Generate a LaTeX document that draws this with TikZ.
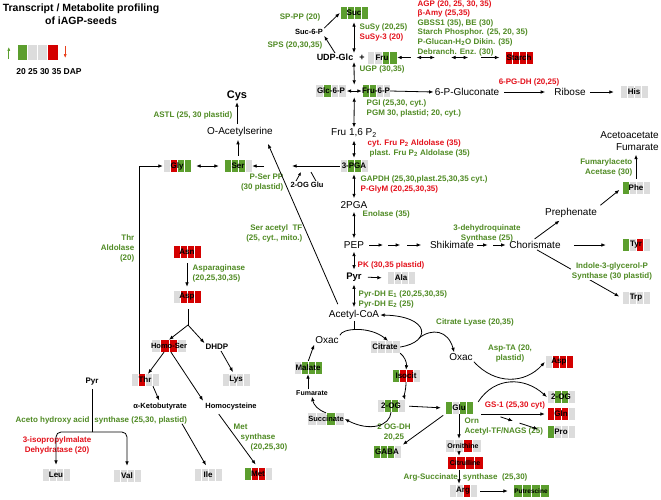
\documentclass[tikz,border=0pt]{standalone}
\usepackage{fontspec}
\setmainfont{Liberation Sans}
\usetikzlibrary{arrows.meta,calc}
\definecolor{hmUp}{HTML}{5C9E2E}
\definecolor{hmDown}{HTML}{D40000}
\definecolor{hmNone}{HTML}{DCDCDC}
\definecolor{enzUp}{HTML}{4F8A23}
\definecolor{enzDown}{HTML}{E3111B}
\definecolor{legDown}{HTML}{E8401C}

\begin{document}
\begin{tikzpicture}[x=1pt,y=-1pt,
    cells/.style n args={4}{path picture={
        \path (path picture bounding box.south west) coordinate (hmsw)
              (path picture bounding box.south east) coordinate (hmse)
              (path picture bounding box.north west) coordinate (hmnw)
              (path picture bounding box.north east) coordinate (hmne);
        \foreach \c [count=\i from 0] in {#1,#2,#3,#4}
          \fill[\c] ($(hmsw)!{\i/4}!(hmse)+(0.5,0)$) rectangle ($(hmnw)!{(\i+1)/4}!(hmne)-(0.5,0)$);}},
    hm/.style={fill=white,inner sep=0pt,minimum width=28pt,minimum height=12pt,
               font=\bfseries\fontsize{8}{9}\selectfont},
    cpd/.style={font=\fontsize{10}{12}\selectfont,inner sep=1pt},
    bcpd/.style={font=\bfseries\fontsize{8}{10}\selectfont,inner sep=1pt},
    enz/.style={font=\bfseries\fontsize{8}{10}\selectfont,text=enzUp,inner sep=0.5pt,align=left},
    enzr/.style={enz,text=enzDown},
    arr/.style={line width=0.8pt,-{Latex[length=4.5pt,width=3.6pt]}},
    sarr/.style={line width=0.8pt,-{Latex[length=3.5pt,width=3pt]}},
    rarr/.style={line width=0.8pt,{Latex[length=4.5pt,width=3.6pt]}-},
    dbl/.style={line width=0.8pt,{Latex[length=4.5pt,width=3.6pt]}-{Latex[length=4.5pt,width=3.6pt]}},
    ln/.style={line width=0.8pt},
    legup/.style={line width=1pt,hmUp,-{Latex[length=4pt,width=3pt]}},
    legdn/.style={line width=1pt,legDown,-{Latex[length=4pt,width=3pt]}}]
  \useasboundingbox (0,0) rectangle (661,499);

  % header and legend
  \node[font=\bfseries\fontsize{10.5}{13}\selectfont,align=center] (title) at (81,14.5) {Transcript / Metabolite profiling\\of iAGP-seeds};
  \node[hm,minimum width=41pt,minimum height=15pt,cells={hmUp}{hmNone}{hmNone}{hmDown}] (legend) at (37.5,52.5) {};
  \draw[legup] ([xshift=-8pt,yshift=1pt]legend.south west) -- ([xshift=-8pt,yshift=-2pt]legend.north west);
  \draw[legdn] ([xshift=7pt,yshift=-1pt]legend.north east) -- ([xshift=7pt,yshift=2pt]legend.south east);
  \node[font=\bfseries\fontsize{8.5}{10}\selectfont] (dap) at (49,72) {20 25 30 35 DAP};

  % sucrose, starch, hexose phosphates
  \node[hm,cells={hmUp}{hmUp}{hmUp}{hmUp}] (suc) at (354,13) {Suc};
  \node[bcpd,font=\bfseries\fontsize{7.5}{9}\selectfont] (suc6p) at (309,32) {Suc-6-P};
  \node[bcpd,font=\bfseries\fontsize{9}{10}\selectfont] (udpglc) at (335,57.5) {UDP-Glc};
  \node[bcpd,font=\bfseries\fontsize{9}{10}\selectfont] (plus) at (362,57.5) {+};
  \node[hm,minimum width=30pt,cells={hmNone}{hmNone}{hmUp}{hmUp}] (fru) at (382,57.5) {Fru};
  \node[hm,cells={hmDown}{hmDown}{hmDown}{hmDown}] (starch) at (519,57.5) {Starch};
  \node[hm,minimum width=31pt,cells={hmNone}{hmUp}{hmNone}{hmNone}] (glc6p) at (331,91) {Glc-6-P};
  \node[hm,cells={hmUp}{hmUp}{hmNone}{hmNone}] (fru6p) at (376,91) {Fru-6-P};
  \node[cpd] (pgluc) at (467,92) {6-P-Gluconate};
  \node[cpd] (ribose) at (570,92) {Ribose};
  \node[hm,cells={hmNone}{hmNone}{hmNone}{hmNone}] (his) at (634,92) {His};

  \node[enz,anchor=east] (lsppp) at (321,17) {SP-PP (20)};
  \node[enz,anchor=east] (lsps) at (323,45) {SPS (20,30,35)};
  \node[enz,anchor=west] (lsusy) at (359,32.5) {SuSy (20,25)\\\textcolor{enzDown}{SuSy-3 (20)}};
  \node[enz,anchor=west] (lugp) at (359,69) {UGP (30,35)};
  \node[enz,anchor=west,font=\bfseries\fontsize{8}{9.6}\selectfont] (lstarch) at (417,28) {\textcolor{enzDown}{AGP (20, 25, 30, 35)}\\\textcolor{enzDown}{β-Amy (25,35)}\\GBSS1 (35), BE (30)\\Starch Phosphor. (25, 20, 35)\\P-Glucan-H\textsubscript{2}O Dikin. (35)\\Debranch. Enz. (30)};
  \node[enzr] (lpgdh) at (529,82) {6-PG-DH (20,25)};

  \draw[dbl,shorten <=3pt] (suc.south) -- (suc.south |- udpglc.north);
  \draw[arr] (udpglc.north) -- (suc6p.south east);
  \draw[arr] (suc6p.north east) -- (suc.west);
  \draw[dbl] (udpglc.south -| suc) -- ($(glc6p.north east)!.5!(fru6p.north west)$);
  \draw[dbl] (glc6p.east) -- (fru6p.west);
  \foreach \a/\b/\s in {0/.13/rarr, .18/.35/dbl, .5/.66/dbl, .78/.95/arr}
    \draw[\s] ($(fru.east)!\a!(starch.west)$) -- ($(fru.east)!\b!(starch.west)$);
  \draw[arr] (fru6p.east) -- (pgluc.west);
  \draw[arr,shorten <=4pt,shorten >=8pt] (pgluc.east) -- (ribose.west);
  \draw[arr,shorten <=3pt,shorten >=6pt] (ribose.east) -- (his.west);

  % glycolysis
  \node[cpd] (fru16) at (354,133) {Fru 1,6 P\textsubscript{2}};
  \node[hm,cells={hmNone}{hmUp}{hmUp}{hmNone}] (pga3) at (354,166) {3-PGA};
  \node[cpd] (pga2) at (354,205) {2PGA};
  \node[cpd] (pep) at (354,245) {PEP};
  \node[bcpd,font=\bfseries\fontsize{9.5}{11}\selectfont] (pyr) at (354,277) {Pyr};
  \node[hm,cells={hmNone}{hmNone}{hmNone}{hmNone}] (ala) at (401,278) {Ala};
  \node[cpd] (acoa) at (354,315) {Acetyl-CoA};

  \node[enz,anchor=west] (lpgi) at (366,108) {PGI (25,30, cyt.)\\PGM 30, plastid; 20, cyt.)};
  \node[enz,anchor=west] (lald) at (367,148) {\textcolor{enzDown}{cyt. Fru P\textsubscript{2} Aldolase (35)}\\\hspace*{2pt}plast. Fru P\textsubscript{2} Aldolase (35)};
  \node[enz,anchor=west] (lgapdh) at (360,184.5) {GAPDH (25,30,plast.25,30,35 cyt.)\\\textcolor{enzDown}{P-GlyM (20,25,30,35)}};
  \node[enz,anchor=west] (leno) at (362,214) {Enolase (35)};
  \node[enzr,anchor=west] (lpk) at (357,265) {PK (30,35 plastid)};
  \node[enz,anchor=west] (lpdh) at (358,299) {Pyr-DH E\textsubscript{1} (20,25,30,35)\\Pyr-DH E\textsubscript{2} (25)};

  \draw[dbl] ($(glc6p.south east)!.5!(fru6p.south west)$) -- (fru16.north);
  \foreach \a/\b in {fru16/pga3, pga3/pga2, pga2/pep, pep/pyr, pyr/acoa}
    \draw[dbl,shorten <=2pt,shorten >=2pt] (\a) -- (\b);
  \draw[arr,shorten <=5pt,shorten >=5pt] (pyr.east) -- (ala.west);

  % aromatic amino acids
  \node[cpd] (shik) at (452,245) {Shikimate};
  \node[cpd] (chor) at (535,245) {Chorismate};
  \node[cpd] (preph) at (571,213) {Prephenate};
  \node[hm,cells={hmUp}{hmNone}{hmDown}{hmNone}] (tyr) at (636,245) {Tyr};
  \node[hm,cells={hmUp}{hmNone}{hmNone}{hmNone}] (phe) at (636,188) {Phe};
  \node[hm,cells={hmNone}{hmNone}{hmNone}{hmNone}] (trp) at (636,298) {Trp};
  \node[cpd,anchor=east,align=right] (acfu) at (660,141) {Acetoacetate\\Fumarate};
  \node[enz,align=center] (ldhq) at (487,233) {3-dehydroquinate\\Synthase (25)};
  \node[enz,anchor=east,align=right] (lfaa) at (633,167.5) {Fumarylaceto\\Acetase (30)};

  \foreach \a/\b in {.06/.28, .36/.55, .66/.88}
    \draw[arr] ($(pep.east)!\a!(shik.west)$) -- ($(pep.east)!\b!(shik.west)$);
  \foreach \a/\b in {.05/.38, .54/.92}
    \draw[arr] ($(shik.east)!\a!(chor.west)$) -- ($(shik.east)!\b!(chor.west)$);
  \draw[arr,shorten <=12pt,shorten >=16pt] (chor.east) -- (tyr.west);
  \draw[arr,shorten <=2pt,shorten >=3pt] ([xshift=-2pt]chor.north) -- ([xshift=-9pt]preph.south);
  \draw[arr,shorten <=3pt,shorten >=3pt] (preph.north east) -- (phe.west);
  \draw[arr,shorten <=3pt,shorten >=3pt] (phe.north) -- (phe.north |- acfu.south);
  \draw[arr,shorten >=3pt] ([xshift=2pt]chor.south) -- (trp.west);
  \node[enz,align=center,fill=white] (ligp) at (612,271) {Indole-3-glycerol-P\\Synthase (30 plastid)};

  % serine, glycine, cysteine
  \node[bcpd,font=\bfseries\fontsize{11}{12}\selectfont] (cys) at (237,96) {Cys};
  \node[cpd] (oacs) at (240,132) {O-Acetylserine};
  \node[hm,cells={hmUp}{hmUp}{hmUp}{hmNone}] (ser) at (238,166) {Ser};
  \node[hm,cells={hmNone}{hmDown}{hmUp}{hmUp}] (gly) at (177,166) {Gly};
  \node[bcpd,font=\bfseries\fontsize{7.5}{9}\selectfont] (ogglu) at (307,185) {2-OG Glu};
  \coordinate (serA) at (292,166);
  \coordinate (serB) at (264,166);
  \node[enz,anchor=east] (lastl) at (233,115) {ASTL (25, 30 plastid)};
  \node[enz,anchor=east,align=right] (lpser) at (284,183) {P-Ser PP\\(30 plastid)};
  \node[enz,anchor=east,align=right] (lsat) at (303,233) {Ser acetyl\ \ TF\\(25, cyt., mito.)};

  \draw[arr,shorten <=2pt] (oacs.north -| cys) -- (cys.south);
  \draw[arr,shorten <=4pt,shorten >=2pt] (ser.north) -- (ser.north |- oacs.south);
  \draw[dbl,shorten <=5pt,shorten >=5pt] (gly.east) -- (ser.west);
  \draw[arr] (pga3.west) -- (serA);
  \draw[arr] (serB) -- (ser.east);
  \draw[sarr] ([xshift=-11pt]ogglu.north) -- ([xshift=-6pt,yshift=9pt]ogglu.north);
  \draw[ln] ([xshift=4pt,yshift=9pt]ogglu.north) -- ([xshift=9pt]ogglu.north);
  \draw[arr] ([xshift=10pt,yshift=5pt]acoa.north west) -- ([xshift=-6pt,yshift=-6pt]oacs.south east);

  % aspartate family
  \node[hm,cells={hmDown}{hmDown}{hmDown}{hmDown}] (asn) at (187,252) {Asn};
  \node[hm,cells={hmNone}{hmDown}{hmDown}{hmDown}] (aspl) at (187,297) {Asp};
  \node[hm,font=\bfseries\fontsize{7.5}{9}\selectfont,cells={hmNone}{hmDown}{hmDown}{hmNone}] (homoser) at (169,346) {Homo-Ser};
  \node[bcpd] (dhdp) at (217,347) {DHDP};
  \node[hm,cells={hmNone}{hmDown}{hmNone}{hmNone}] (thr) at (145,380) {Thr};
  \node[hm,cells={hmNone}{hmNone}{hmNone}{hmNone}] (lys) at (236,380) {Lys};
  \node[bcpd,font=\bfseries\fontsize{7.5}{9}\selectfont] (aketo) at (160,407) {α-Ketobutyrate};
  \node[bcpd,font=\bfseries\fontsize{7.5}{9}\selectfont] (homocys) at (231,407) {Homocysteine};
  \node[bcpd] (pyrl) at (92,382) {Pyr};
  \node[hm,cells={hmNone}{hmNone}{hmNone}{hmNone}] (leu) at (56,475) {Leu};
  \node[hm,cells={hmNone}{hmNone}{hmNone}{hmNone}] (val) at (127,476) {Val};
  \node[hm,cells={hmNone}{hmNone}{hmNone}{hmNone}] (ile) at (208,475) {Ile};
  \node[hm,cells={hmUp}{hmDown}{hmDown}{hmNone}] (met) at (258,474) {Met};
  \coordinate (aspbr) at (188,325);
  \coordinate (pyrbr) at (92,432);
  \node[enz,anchor=east,align=right] (lthra) at (135,248) {Thr\\Aldolase\\(20)};
  \node[enz,anchor=west] (lasnase) at (192,273) {Asparaginase\\(20,25,30,35)};
  \node[enz,anchor=west] (lahas) at (15,420) {Aceto hydroxy acid\hspace{5pt}synthase (25,30, plastid)};
  \node[enzr,align=center] (lipm) at (57,445.5) {3-isopropylmalate\\Dehydratase (20)};
  \node[enz,anchor=west] (lmets) at (233,438) {Met\\\hspace*{7pt}synthase\\\hspace*{17pt}(20,25,30)};

  \draw[arr] ([xshift=-6pt]thr.north) |- (gly.west);
  \draw[arr,shorten <=5pt,shorten >=4pt] (asn.south) -- (aspl.north);
  \draw[ln,shorten <=6pt] (aspl.south -| aspbr) -- (aspbr);
  \draw[arr] (aspbr) -- (homoser.north);
  \draw[arr] (aspbr) -- (dhdp.north west);
  \draw[arr,shorten >=2pt] ([xshift=4pt]dhdp.south) -- ([xshift=-2pt]lys.north);
  \draw[arr] ([xshift=-5pt]homoser.south) -- ([xshift=3pt]thr.north);
  \draw[arr,shorten >=2pt] ([xshift=2pt]homoser.south) -- (homocys.north west);
  \draw[arr,shorten >=2pt] ([xshift=8pt]thr.south) -- (aketo.north);
  \draw[arr,shorten >=4pt] ([xshift=22pt,yshift=-12pt]aketo.south) -- (ile.north);
  \draw[arr,shorten <=3pt,shorten >=4pt] ([xshift=-14pt]homocys.south) -- (met.north);
  \draw[ln,shorten <=2pt] (pyrl.south) -- (pyrbr);
  \draw[arr,rounded corners=5pt,shorten >=4pt] (pyrbr) -| (leu.north);
  \draw[arr,rounded corners=5pt,shorten >=4pt] (pyrbr) -| (val.north);

  % TCA cycle
  \node[cpd] (oxacl) at (327,340) {Oxac};
  \node[cpd] (oxacr) at (461,357) {Oxac};
  \node[hm,minimum width=30pt,cells={hmNone}{hmNone}{hmNone}{hmNone}] (citrate) at (385,347) {Citrate};
  \node[hm,cells={hmUp}{hmDown}{hmDown}{hmNone}] (isocit) at (406,376) {Isocit};
  \node[hm,cells={hmNone}{hmUp}{hmUp}{hmUp}] (malate) at (308,368) {Malate};
  \node[bcpd,font=\bfseries\fontsize{7}{8}\selectfont] (fum) at (312,393) {Fumarate};
  \node[hm,minimum width=37pt,font=\bfseries\fontsize{7.5}{9}\selectfont,cells={hmNone}{hmNone}{hmUp}{hmNone}] (succ) at (326,419) {Succinate};
  \node[hm,cells={hmNone}{hmUp}{hmUp}{hmNone}] (ogl) at (391,406) {2-OG};
  \coordinate (cs) at (354,330);
  \coordinate (lyase) at (419,338);
  \node[enz] (llyase) at (475,322) {Citrate Lyase (20,35)};
  \node[enz,align=center] (logdh) at (394,432) {2 OG-DH\\20,25};

  \draw[ln] (acoa.south) -- (cs);
  \draw[arr] (oxacl.north east) .. controls (342,328) and (370,326) .. ([xshift=3pt]citrate.north);
  \draw[arr] (citrate.south east) .. controls (404,356) and (407,362) .. (isocit.north);
  \draw[arr] (isocit.south) .. controls (406,390) and (404,396) .. (ogl.north east);
  \draw[arr] (ogl.south) .. controls (390,426) and (370,432) .. (succ.east);
  \draw[arr] (succ.north) to[bend left=30] (fum.south);
  \draw[arr] (fum.north -| malate) -- (malate.south);
  \draw[arr,shorten <=1pt] (malate.north) -- (oxacl.south west);
  \draw[arr] (citrate.east) .. controls (432,342) and (430,316) .. (acoa.east);
  \draw[arr] (lyase) .. controls (432,328) and (448,330) .. ([xshift=6pt]oxacr.north west);

  % glutamate family
  \node[hm,cells={hmUp}{hmNone}{hmUp}{hmUp}] (glu) at (459,408) {Glu};
  \node[hm,cells={hmUp}{hmUp}{hmUp}{hmNone}] (gaba) at (387,452) {GABA};
  \node[hm,minimum width=36pt,font=\bfseries\fontsize{7}{8}\selectfont,cells={hmNone}{hmNone}{hmDown}{hmNone}] (orn) at (463,446) {Ornithine};
  \node[hm,minimum width=36pt,font=\bfseries\fontsize{7}{8}\selectfont,cells={hmDown}{hmDown}{hmDown}{hmDown}] (cit) at (465,463) {Citrulline};
  \node[hm,cells={hmNone}{hmNone}{hmDown}{hmNone}] (arg) at (463,491) {Arg};
  \node[hm,minimum width=36pt,font=\bfseries\fontsize{6.5}{8}\selectfont,cells={hmUp}{hmUp}{hmUp}{hmUp}] (putr) at (531,491) {Putrescine};
  \node[hm,cells={hmNone}{hmDown}{hmDown}{hmDown}] (aspr) at (559,362) {Asp};
  \node[hm,cells={hmNone}{hmUp}{hmUp}{hmNone}] (ogr) at (561,397) {2-OG};
  \node[hm,cells={hmDown}{hmDown}{hmDown}{hmNone}] (gln) at (561,414) {Gln};
  \node[hm,cells={hmUp}{hmNone}{hmNone}{hmNone}] (pro) at (561,432) {Pro};
  \node[enz,align=center] (lasta) at (510,353) {Asp-TA (20,\\plastid)};
  \node[enzr] (lgs) at (515,405) {GS-1 (25,30 cyt)};
  \node[enz,anchor=west] (lorn) at (464,427) {Orn\\Acetyl-TF/NAGS (25)};
  \node[enz,anchor=west] (lass) at (403,477) {Arg-Succinate\hspace{5pt}synthase\ \ (25,30)};

  \draw[arr,shorten <=4pt,shorten >=4pt] (ogl.east) -- (glu.west);
  \draw[arr,shorten <=2pt,shorten >=2pt] (glu.south west) -- (gaba.north east);
  \draw[arr,shorten >=1pt] (glu.south) -- (glu.south |- orn.north);
  \draw[arr,shorten <=1pt,shorten >=1pt] (orn.south -| glu) -- (cit.north -| glu);
  \draw[arr,shorten <=1pt,shorten >=1pt] (cit.south -| glu) -- (arg.north -| glu);
  \draw[arr,shorten <=3pt,shorten >=5pt] (arg.east) -- (putr.west);
  \draw[arr,shorten <=8pt,shorten >=2pt] (glu.east |- gln.west) -- (gln.west);
  \foreach \a/\b in {.37/.54, .63/.88}
    \draw[arr] ($(glu.east)!\a!(pro.west)$) -- ($(glu.east)!\b!(pro.west)$);
  \draw[arr] (oxacr.south east) .. controls (495,385) and (525,384) .. (aspr.west);
  \draw[arr] ([xshift=5pt]glu.north east) .. controls (495,376) and (525,377) .. (ogr.west);
\end{tikzpicture}
\end{document}
